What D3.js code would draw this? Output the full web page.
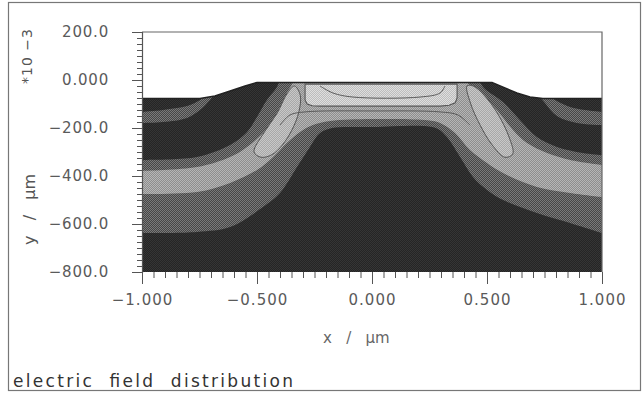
<!DOCTYPE html>
<html><head><meta charset="utf-8">
<script src="https://cdn.jsdelivr.net/npm/d3@7"></script>
<style>
html,body{margin:0;padding:0;background:#fff;}
svg{display:block;}
text{font-family:"DejaVu Sans",sans-serif;white-space:pre;}
</style></head>
<body>
<svg id="c" width="644" height="393"></svg>
<script>
// ---------- data (x in µm, y in 10^-3 µm) ----------
const xTicks = [-1, -0.5, 0, 0.5, 1];
const xTickLabels = ["\u22121.000", "\u22120.500", "0.000", "0.500", "1.000"];
const yTicks = [200, 0, -200, -400, -600, -800];
const yTickLabels = ["200.0", "0.000", "\u2212200.0", "\u2212400.0", "\u2212600.0", "\u2212800.0"];

// device surface (top of simulated region)
const surface = [[-1,-77],[-0.748,-77],[-0.683,-67],[-0.617,-46],[-0.552,-25],[-0.5,-10],
  [0.522,-10],[0.578,-33],[0.63,-54],[0.687,-71],[0.743,-77],[1,-77]];

// band boundaries (left edge -> right edge), region below each is painted with its level
const bandF = [[-1,-133],[-0.909,-125],[-0.791,-104],[-0.735,-75],[-0.696,-42],[-0.639,83],
  [0.687,83],[0.752,-50],[0.796,-83],[0.861,-112],[0.926,-125],[1,-133]];
const bandE = [[-1,-179],[-0.909,-175],[-0.804,-158],[-0.748,-125],[-0.704,-83],[-0.67,-42],[-0.609,83],
  [0.652,83],[0.709,-42],[0.752,-96],[0.804,-150],[0.891,-179],[1,-188]];
const bandD = [[-1,-333],[-0.761,-321],[-0.617,-271],[-0.543,-217],[-0.5,-154],[-0.457,-83],[-0.413,-29],[-0.37,63],
  [0.426,63],[0.483,-29],[0.57,-92],[0.643,-167],[0.717,-238],[0.804,-279],[0.917,-304],[1,-313]];
const bandC = [[-1,-379],[-0.761,-363],[-0.617,-321],[-0.543,-279],[-0.474,-221],[-0.43,-167],[-0.4,-113],[-0.37,-54],[-0.343,-8],[-0.322,63],
  [0.391,63],[0.413,-8],[0.47,-54],[0.543,-125],[0.613,-208],[0.674,-263],[0.761,-304],[0.861,-333],[1,-354]];
const bandB = [[-1,-475],[-0.761,-467],[-0.617,-429],[-0.5,-375],[-0.43,-321],[-0.37,-263],[-0.313,-217],[-0.257,-188],[-0.183,-171],[0,-163],
  [0.23,-167],[0.296,-179],[0.361,-221],[0.426,-292],[0.5,-346],[0.57,-388],[0.717,-446],[0.861,-471],[1,-488]];
const bandA = [[-1,-638],[-0.761,-633],[-0.617,-613],[-0.474,-529],[-0.4,-471],[-0.326,-363],[-0.27,-279],[-0.226,-221],[-0.174,-200],[0,-196],
  [0.23,-192],[0.287,-204],[0.326,-238],[0.383,-321],[0.439,-404],[0.5,-458],[0.57,-500],[0.717,-554],[0.861,-596],[1,-638]];
const bandOrder = [bandF, bandE, bandD, bandC, bandB, bandA];
const bandLevels = [1, 0, 1, 2, 1, 0];
// each grey level is a two-tone dither (pairs)
const levelColors = [["#252525", "#353535"], ["#474747", "#7a7a7a"], ["#8e8e8e", "#b6b6b6"],
  ["#a8a8a8", "#c8c8c8"], ["#bdbdbd", "#dedede"]];

// closed high-field contours
const peakLeft = [[-0.513,-300],[-0.468,-217],[-0.412,-138],[-0.37,-58],[-0.337,-25],[-0.312,-63],[-0.318,-133],
  [-0.348,-208],[-0.39,-271],[-0.435,-311],[-0.482,-322]];
const peakRight = [[0.413,-25],[0.428,-96],[0.47,-188],[0.522,-270],[0.578,-322],[0.612,-308],[0.596,-238],
  [0.545,-138],[0.487,-63],[0.44,-25]];
const peakCenter = [[-0.291,-17],[-0.291,-83],[-0.282,-100],[-0.26,-107],[-0.226,-109],[0.296,-109],[0.335,-105],
  [0.362,-95],[0.37,-75],[0.37,-17]];
const innerLine = [[-0.226,-25],[-0.17,-54],[-0.083,-71],[0.209,-71],[0.296,-54],[0.317,-25]];
const underLine = [[-0.4,-188],[-0.357,-146],[-0.291,-133],[0,-129],[0.296,-133],[0.374,-146],[0.426,-188]];

// ---------- drawing ----------
const svg = d3.select("#c");
const x = d3.scaleLinear().domain([-1, 1]).range([142, 602]);
const y = d3.scaleLinear().domain([-800, 200]).range([272, 32]);

const defs = svg.append("defs");
levelColors.forEach((c, i) => {
  const p = defs.append("pattern").attr("id", "lv" + i).attr("patternUnits", "userSpaceOnUse")
    .attr("width", 2).attr("height", 2);
  p.append("rect").attr("width", 2).attr("height", 2).attr("fill", c[0]);
  p.append("rect").attr("width", 1).attr("height", 1).attr("fill", c[1]);
  p.append("rect").attr("x", 1).attr("y", 1).attr("width", 1).attr("height", 1).attr("fill", c[1]);
});
const fillOf = i => `url(#lv${i})`;

svg.append("rect").attr("x", 8.5).attr("y", 2.5).attr("width", 632).attr("height", 388)
  .attr("fill", "none").attr("stroke", "#777").attr("stroke-width", 1.2);

const lin = d3.line().x(d => x(d[0])).y(d => y(d[1]));
const smooth = d3.line().x(d => x(d[0])).y(d => y(d[1])).curve(d3.curveCatmullRom.alpha(0.5));
const smoothClosed = d3.line().x(d => x(d[0])).y(d => y(d[1])).curve(d3.curveCatmullRomClosed.alpha(0.5));

const device = surface.concat([[1, -800], [-1, -800]]);
defs.append("clipPath").attr("id", "dev").append("path").attr("d", lin(device) + "Z");

const g = svg.append("g").attr("clip-path", "url(#dev)");
g.append("path").attr("d", lin(device) + "Z").attr("fill", fillOf(0));
bandOrder.forEach((b, i) => {
  g.append("path")
    .attr("d", smooth(b) + `L${x(1)},${y(-800)}L${x(-1)},${y(-800)}Z`)
    .attr("fill", fillOf(bandLevels[i]));
});
[peakLeft, peakRight].forEach(p => {
  g.append("path").attr("d", smoothClosed(p)).attr("fill", fillOf(3))
    .attr("stroke", "#555").attr("stroke-width", 1);
});
g.append("path").attr("d", lin(peakCenter) + "Z").attr("fill", fillOf(4))
  .attr("stroke", "#555").attr("stroke-width", 1.1);
[innerLine, underLine].forEach(l => {
  g.append("path").attr("d", smooth(l)).attr("fill", "none")
    .attr("stroke", "#5a5a5a").attr("stroke-width", 1);
});
// surface outline
svg.append("path").attr("d", lin(surface)).attr("fill", "none")
  .attr("stroke", "#222").attr("stroke-width", 1.5);

// frame (top, right)
svg.append("path").attr("d", `M${x(-1)},${y(200)}H${x(1)}V${y(-800)}`)
  .attr("fill", "none").attr("stroke", "#666").attr("stroke-width", 1.2);

// y axis
const yMinor = d3.range(200, -801, -25);
svg.append("g").attr("transform", `translate(${x(-1)},0)`)
  .call(d3.axisLeft(y).tickValues(yMinor).tickSize(5).tickFormat(""))
  .call(a => a.select(".domain").attr("stroke", "#555").attr("stroke-width", 1.2))
  .call(a => a.selectAll(".tick line").attr("stroke", "#555"));
svg.append("g").attr("transform", `translate(${x(-1)},0)`)
  .call(d3.axisLeft(y).tickValues(yTicks).tickSize(10).tickPadding(23).tickFormat((d, i) => yTickLabels[i]))
  .call(a => a.select(".domain").remove())
  .call(a => a.selectAll(".tick line").attr("stroke", "#555"))
  .call(a => a.selectAll("text").attr("font-family", "DejaVu Sans").attr("font-size", 15)
    .attr("fill", "#5a5a5a").attr("letter-spacing", "0.8px"));

// x axis
const xMinor = d3.range(-1, 1.0001, 0.05);
svg.append("g").attr("transform", `translate(0,${y(-800)})`)
  .call(d3.axisBottom(x).tickValues(xMinor).tickSize(6).tickFormat(""))
  .call(a => a.select(".domain").remove())
  .call(a => a.selectAll(".tick line").attr("stroke", "#555"));
svg.append("g").attr("transform", `translate(0,${y(-800)})`)
  .call(d3.axisBottom(x).tickValues(xTicks).tickSize(12).tickPadding(10).tickFormat((d, i) => xTickLabels[i]))
  .call(a => a.select(".domain").remove())
  .call(a => a.selectAll(".tick line").attr("stroke", "#555"))
  .call(a => a.selectAll("text").attr("font-family", "DejaVu Sans").attr("font-size", 15)
    .attr("fill", "#5a5a5a").attr("letter-spacing", "1px"));

// axis titles
svg.append("text").attr("x", 323).attr("y", 343).attr("font-size", 15).attr("fill", "#666")
  .text("x   /   \u03bcm");
svg.append("text").attr("transform", "translate(35,245) rotate(-90)").attr("text-anchor", "start")
  .attr("font-size", 16).attr("fill", "#555").text("y   /   \u03bcm");
svg.append("text").attr("transform", "translate(32,84) rotate(-90)").attr("text-anchor", "start")
  .attr("font-size", 14).attr("fill", "#555").attr("textLength", 55).attr("lengthAdjust", "spacing")
  .text("*10 \u22123");

// title
svg.append("text").attr("x", 13).attr("y", 387).attr("font-size", 17).attr("fill", "#333")
  .attr("textLength", 280).attr("lengthAdjust", "spacing").text("electric  field  distribution");
</script>
</body></html>
